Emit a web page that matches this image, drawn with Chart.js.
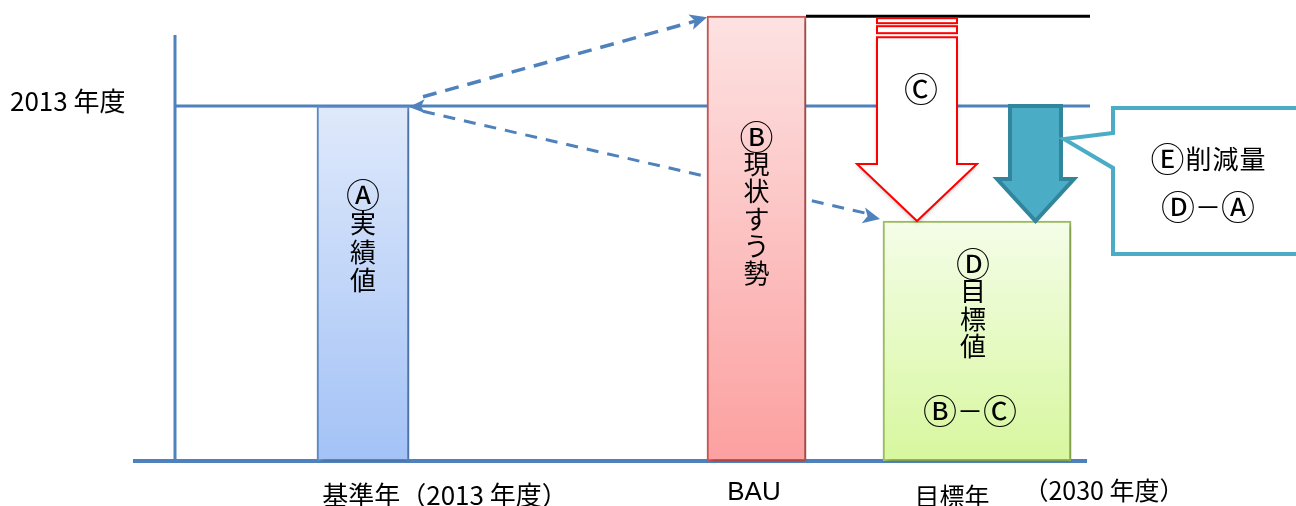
<!DOCTYPE html>
<html lang="ja">
<head>
<meta charset="utf-8">
<title>削減目標の考え方</title>
<script src="https://cdn.jsdelivr.net/npm/chart.js@4.4.1/dist/chart.umd.min.js"></script>
<style>
  html, body { margin: 0; padding: 0; background: #fff; }
  canvas { display: block; }
</style>
</head>
<body>
<canvas id="reductionChart" width="1296" height="506"></canvas>
<script>
// emissions index, 2013 actual = 100
const categories = ["基準年（2013 年度）", "BAU", "目標年"];
const barNames = ["Ⓐ実績値", "Ⓑ現状すう勢", "Ⓓ目標値"];
const emissions = [100, 125.3, 67.6];
const levelTick = "2013 年度";
const targetYear = "（2030 年度）";
const arrowLabel = "Ⓒ";
const targetFormula = "Ⓑ－Ⓒ";
const reductionText = ["Ⓔ削減量", "Ⓓ－Ⓐ"];

// where things sit on the horizontal scale (0..1296)
const slotCenter = [363, 756.5, 977];
const slotWidth = [92, 99, 188];
const axisX = 175;
const lineEnd = 1090;

const FONT = '"Noto Sans CJK JP", "Noto Sans", sans-serif';
const BLUE = "#4f81bd";

const barStyles = [
  { top: "#dfe9fb", bottom: "#a3c2f6", border: "#5b8bc8" },
  { top: "#fde2e2", bottom: "#fca0a0", border: "#cc5552" },
  { top: "#f4fde8", bottom: "#d7f79e", border: "#9fbf5e" },
];

function gradientFor(i) {
  return (context) => {
    const chart = context.chart;
    if (!chart.chartArea) return barStyles[i].bottom;
    const y = chart.scales.y;
    const g = chart.ctx.createLinearGradient(0, y.getPixelForValue(emissions[i]), 0, y.getPixelForValue(0));
    g.addColorStop(0, barStyles[i].top);
    g.addColorStop(1, barStyles[i].bottom);
    return g;
  };
}

const barSets = emissions.map((v, i) => ({
  type: "bar",
  label: categories[i],
  data: [{ x: slotCenter[i], y: [0, v] }],
  backgroundColor: gradientFor(i),
  borderColor: barStyles[i].border,
  borderWidth: 2,
  borderSkipped: false,
  barThickness: slotWidth[i],
  grouped: false,
  order: 0,
}));

function line(points, color, width, dash) {
  return {
    type: "line",
    data: points,
    borderColor: color,
    borderWidth: width,
    borderDash: dash || [],
    pointRadius: 0,
    fill: false,
    order: 1,
  };
}

const aRight = slotCenter[0] + slotWidth[0] / 2;
const bauLeft = slotCenter[1] - slotWidth[1] / 2;
const bauRight = slotCenter[1] + slotWidth[1] / 2;
const dLeft = slotCenter[2] - slotWidth[2] / 2;

const lineSets = [
  line([{ x: 133, y: 0 }, { x: 1087, y: 0 }], BLUE, 4),
  line([{ x: axisX, y: 0 }, { x: axisX, y: 120 }], BLUE, 3),
  line([{ x: axisX, y: emissions[0] }, { x: lineEnd, y: emissions[0] }], BLUE, 3),
  line([{ x: bauRight, y: emissions[1] }, { x: lineEnd, y: emissions[1] }], "#000", 3),
  line([{ x: aRight + 14, y: emissions[0] + 2.6 }, { x: bauLeft - 12, y: emissions[1] - 1.4 }], BLUE, 3.5, [14, 9]),
  line([{ x: aRight + 14, y: emissions[0] - 1.5 }, { x: dLeft - 14, y: emissions[2] + 2 }], BLUE, 3, [12, 9]),
];

function arrowHead(ctx, x0, y0, x1, y1, len, half, color) {
  const a = Math.atan2(y1 - y0, x1 - x0);
  ctx.save();
  ctx.fillStyle = color;
  ctx.beginPath();
  ctx.moveTo(x1, y1);
  ctx.lineTo(x1 - len * Math.cos(a) + half * Math.sin(a), y1 - len * Math.sin(a) - half * Math.cos(a));
  ctx.lineTo(x1 - len * 0.75 * Math.cos(a), y1 - len * 0.75 * Math.sin(a));
  ctx.lineTo(x1 - len * Math.cos(a) - half * Math.sin(a), y1 - len * Math.sin(a) + half * Math.cos(a));
  ctx.closePath();
  ctx.fill();
  ctx.restore();
}

// circled letters come out small in the CJK font, so they get a bigger size
const isCircled = (ch) => ch >= "\u24B6" && ch <= "\u24E9";

function glyph(ctx, ch, x, y, size) {
  ctx.font = (isCircled(ch) ? Math.round(size * 1.3) : size) + "px " + FONT;
  ctx.fillText(ch, x, y);
}

function verticalText(ctx, text, x, y, step, size) {
  [...text].forEach((ch, k) => glyph(ctx, ch, x, y + k * step, size));
}

function rowText(ctx, text, cx, y, size, gap) {
  const chars = [...text];
  const widths = chars.map((ch) => {
    ctx.font = (isCircled(ch) ? Math.round(size * 1.3) : size) + "px " + FONT;
    return ctx.measureText(ch).width;
  });
  const total = widths.reduce((a, b) => a + b, 0) + gap * (chars.length - 1);
  let x = cx - total / 2;
  chars.forEach((ch, k) => {
    glyph(ctx, ch, x + widths[k] / 2, y, size);
    x += widths[k] + gap;
  });
}

const barShadow = {
  id: "barShadow",
  beforeDatasetDraw(chart, args) {
    if (args.meta.type !== "bar") return;
    const ctx = chart.ctx;
    ctx.save();
    ctx.shadowColor = "rgba(0,0,0,0.35)";
    ctx.shadowBlur = 5;
    ctx.shadowOffsetX = 2;
    ctx.shadowOffsetY = 2;
  },
  afterDatasetDraw(chart, args) {
    if (args.meta.type !== "bar") return;
    chart.ctx.restore();
  },
};

const diagram = {
  id: "diagram",
  afterDatasetsDraw(chart) {
    const ctx = chart.ctx;
    const xs = chart.scales.x, ys = chart.scales.y;
    const px = (v) => xs.getPixelForValue(v);
    const py = (v) => ys.getPixelForValue(v);

    // heads of the dashed arrows
    arrowHead(ctx, px(aRight + 30), py(emissions[0]) - 8, px(bauLeft), py(emissions[1]) + 1, 17, 8, BLUE);
    arrowHead(ctx, px(aRight + 20), py(emissions[0]), px(aRight), py(emissions[0]) + 1, 16, 7, BLUE);
    arrowHead(ctx, px(dLeft - 40), py(emissions[2]) - 10, px(dLeft - 3), py(emissions[2]) - 2, 17, 8, BLUE);

    // Ⓒ : hollow red arrow from BAU level down to the target
    const top = py(emissions[1]);
    const tip = py(emissions[2]);
    const l = px(877), r = px(957), hl = px(857), hr = px(977), cx = px(917);
    ctx.save();
    ctx.strokeStyle = "#ff0000";
    ctx.fillStyle = "#fff";
    ctx.lineWidth = 2;
    ctx.fillRect(l, top + 2, r - l, 5);
    ctx.strokeRect(l, top + 2, r - l, 5);
    ctx.fillRect(l, top + 10, r - l, 7);
    ctx.strokeRect(l, top + 10, r - l, 7);
    ctx.shadowColor = "rgba(0,0,0,0.25)";
    ctx.shadowBlur = 4;
    ctx.shadowOffsetY = 2;
    ctx.beginPath();
    ctx.moveTo(l, top + 21);
    ctx.lineTo(r, top + 21);
    ctx.lineTo(r, tip - 57);
    ctx.lineTo(hr, tip - 57);
    ctx.lineTo(cx, tip);
    ctx.lineTo(hl, tip - 57);
    ctx.lineTo(l, tip - 57);
    ctx.closePath();
    ctx.fill();
    ctx.shadowColor = "transparent";
    ctx.stroke();
    ctx.restore();

    // Ⓔ : solid teal arrow from 2013 level down to the target
    const tTop = py(emissions[0]);
    const tl = px(1010), tr = px(1061), thl = px(997), thr = px(1074), tcx = px(1035.5);
    ctx.save();
    ctx.fillStyle = "#4bacc6";
    ctx.strokeStyle = "#31859c";
    ctx.lineWidth = 4;
    ctx.beginPath();
    ctx.moveTo(tl, tTop);
    ctx.lineTo(tr, tTop);
    ctx.lineTo(tr, tip - 42);
    ctx.lineTo(thr, tip - 42);
    ctx.lineTo(tcx, tip);
    ctx.lineTo(thl, tip - 42);
    ctx.lineTo(tl, tip - 42);
    ctx.closePath();
    ctx.fill();
    ctx.stroke();
    ctx.restore();

    // callout box for the reduction
    ctx.save();
    ctx.fillStyle = "#fff";
    ctx.strokeStyle = "#4bacc6";
    ctx.lineWidth = 4;
    ctx.beginPath();
    ctx.moveTo(px(1310), 108);
    ctx.lineTo(px(1113), 108);
    ctx.lineTo(px(1113), 133);
    ctx.lineTo(px(1064), 139);
    ctx.lineTo(px(1113), 168);
    ctx.lineTo(px(1113), 254);
    ctx.lineTo(px(1310), 254);
    ctx.closePath();
    ctx.fill();
    ctx.stroke();
    ctx.restore();

    // texts
    ctx.save();
    ctx.fillStyle = "#000";
    ctx.textAlign = "center";
    ctx.textBaseline = "middle";
    verticalText(ctx, barNames[0], px(slotCenter[0]), 195, 28.5, 26);
    verticalText(ctx, barNames[1], px(slotCenter[1]), 137, 27.3, 26);
    verticalText(ctx, barNames[2], px(slotCenter[2] - 4), 264, 27.5, 26);
    rowText(ctx, targetFormula, px(970), 411, 26, 0);
    glyph(ctx, arrowLabel, px(921), 89, 26);
    rowText(ctx, reductionText[0], px(1208), 159, 26, 1);
    rowText(ctx, reductionText[1], px(1208), 207, 26, 0);

    ctx.font = "26px " + FONT;
    ctx.textAlign = "left";
    ctx.fillText(levelTick, 10, py(emissions[0]) - 5);
    ctx.textAlign = "center";
    ctx.fillText(categories[0], px(445), 495);
    ctx.font = "26px 'Liberation Sans', " + FONT;
    ctx.fillText(categories[1], px(754), 493);
    ctx.font = "25px " + FONT;
    ctx.fillText(categories[2], px(952), 496);
    ctx.fillText(targetYear, px(1104), 490);
    ctx.restore();
  },
};

new Chart(document.getElementById("reductionChart"), {
  type: "bar",
  data: { datasets: [...barSets, ...lineSets] },
  options: {
    responsive: false,
    animation: false,
    layout: { padding: 0 },
    scales: {
      x: { type: "linear", min: 0, max: 1296, offset: false, display: false },
      y: { type: "linear", min: -12.68, max: 129.86, display: false },
    },
    plugins: {
      legend: { display: false },
      tooltip: { enabled: false },
    },
  },
  plugins: [barShadow, diagram],
});
</script>
</body>
</html>
